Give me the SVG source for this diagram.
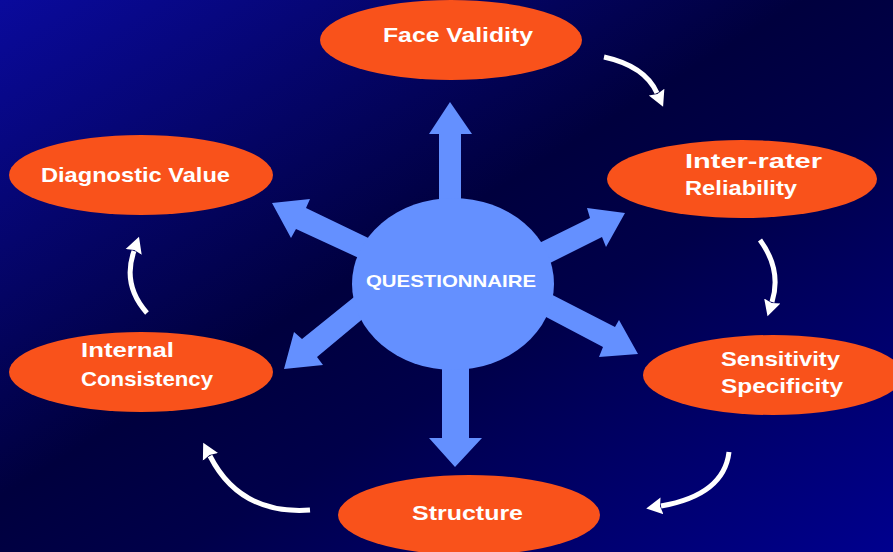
<svg xmlns="http://www.w3.org/2000/svg" width="893" height="552" viewBox="0 0 893 552">
  <defs>
    <linearGradient id="bg" x1="0" y1="0" x2="1" y2="1">
      <stop offset="0" stop-color="#0a0a9c"/>
      <stop offset="0.45" stop-color="#00003e"/>
      <stop offset="0.6" stop-color="#00004a"/>
      <stop offset="1" stop-color="#00008e"/>
    </linearGradient>
    <marker id="head" markerUnits="userSpaceOnUse" viewBox="0 -10 20 20" markerWidth="20" markerHeight="20" refX="1" refY="0" orient="auto">
      <path d="M0,-8.5 L16,0 L0,8.5 L2,0 z" fill="#ffffff"/>
    </marker>
  </defs>
  <style>
    .node { fill: #f9521b; }
    .hub { fill: #6490ff; }
    .spoke { fill: #6490ff; }
    .label { font-family: "Comic Sans MS", "Liberation Sans", sans-serif; font-weight: bold; font-size: 21px; fill: #ffffff; }
    .hublabel { font-family: "Comic Sans MS", "Liberation Sans", sans-serif; font-weight: bold; font-size: 17px; fill: #ffffff; }
    .cycle { fill: none; stroke: #ffffff; stroke-width: 5; marker-end: url(#head); }
  </style>

  <rect x="0" y="0" width="893" height="552" fill="url(#bg)"/>

  <!-- radial arrows from the central hub -->
  <g id="spokes">
    <polygon class="spoke" points="439,250 439,134 429,134 450,102 472,134 461,134 461,250"/>
    <polygon class="spoke" points="442,330 442,438 429,438 455,467 482,438 469,438 469,330"/>
    <polygon class="spoke" points="385,246 306,208 310,199 272,203 291,238 296,229 374,265"/>
    <polygon class="spoke" points="523,251 590,218 587,208 625,213 606,247 602,237 534,271"/>
    <polygon class="spoke" points="369,285 302,339 294,332 284,369 323,365 317,357 377,307"/>
    <polygon class="spoke" points="535,286 615,327 619,320 638,354 599,357 603,347 529,308"/>
  </g>

  <g id="questionnaire">
    <ellipse class="hub" cx="453" cy="284" rx="101" ry="86"/>
    <text class="hublabel" x="366" y="287" textLength="170" lengthAdjust="spacingAndGlyphs">QUESTIONNAIRE</text>
  </g>

  <!-- cycle connectors between the outer stages -->
  <g id="connectors">
    <path class="cycle" d="M604,57 Q645,66 657,93"/>
    <path class="cycle" d="M760,240 Q782,270 772,302"/>
    <path class="cycle" d="M729,452 Q724,495 661,506"/>
    <path class="cycle" d="M310,510 Q240,515 210,456"/>
    <path class="cycle" d="M147,313 Q122,285 134,251"/>
  </g>

  <g id="face-validity">
    <ellipse class="node" cx="451" cy="40" rx="131" ry="40"/>
    <text class="label" x="383" y="42" textLength="150" lengthAdjust="spacingAndGlyphs">Face Validity</text>
  </g>

  <g id="inter-rater">
    <ellipse class="node" cx="742" cy="179" rx="135" ry="39"/>
    <text class="label" x="685" y="168" textLength="137" lengthAdjust="spacingAndGlyphs">Inter-rater</text>
    <text class="label" x="685" y="195" textLength="112" lengthAdjust="spacingAndGlyphs">Reliability</text>
  </g>

  <g id="sensitivity">
    <ellipse class="node" cx="773" cy="375" rx="130" ry="40"/>
    <text class="label" x="721" y="366" textLength="119" lengthAdjust="spacingAndGlyphs">Sensitivity</text>
    <text class="label" x="721" y="393" textLength="122" lengthAdjust="spacingAndGlyphs">Specificity</text>
  </g>

  <g id="structure">
    <ellipse class="node" cx="469" cy="515" rx="131" ry="40"/>
    <text class="label" x="412" y="520" textLength="111" lengthAdjust="spacingAndGlyphs">Structure</text>
  </g>

  <g id="internal-consistency">
    <ellipse class="node" cx="141" cy="372" rx="132" ry="40"/>
    <text class="label" x="81" y="357" textLength="93" lengthAdjust="spacingAndGlyphs">Internal</text>
    <text class="label" x="81" y="386" textLength="132" lengthAdjust="spacingAndGlyphs">Consistency</text>
  </g>

  <g id="diagnostic-value">
    <ellipse class="node" cx="141" cy="175" rx="132" ry="40"/>
    <text class="label" x="41" y="182" textLength="189" lengthAdjust="spacingAndGlyphs">Diagnostic Value</text>
  </g>
</svg>
